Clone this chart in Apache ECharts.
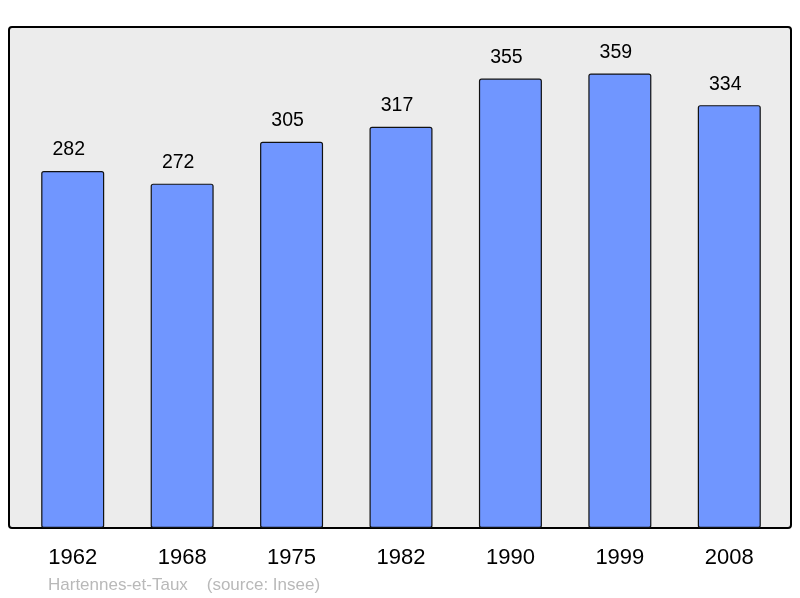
<!DOCTYPE html>
<html>
<head>
<meta charset="utf-8">
<script src="https://cdn.jsdelivr.net/npm/echarts@6/dist/echarts.min.js"></script>
<style>
  html, body { margin: 0; padding: 0; background: #fff; }
  #chart { width: 800px; height: 598px; }
</style>
</head>
<body>
<div id="chart"></div>
<script>
// population by census year
const years = ['1962', '1968', '1975', '1982', '1990', '1999', '2008'];
const population = [282, 272, 305, 317, 355, 359, 334];
const footer = 'Hartennes-et-Taux    (source: Insee)';

const chart = echarts.init(document.getElementById('chart'));

chart.setOption({
  animation: false,
  graphic: [
    {
      type: 'rect', z: -10,
      shape: { x: 9, y: 27, width: 782, height: 501, r: 3 },
      style: { fill: '#ececec', stroke: '#000', lineWidth: 2 }
    },
    {
      type: 'text', left: 48, top: 577,
      style: { text: footer, fill: '#b9b9b9', font: '17px "Liberation Sans", Arial, sans-serif' }
    }
  ],
  grid: { left: 18, right: 16, top: 21.6, bottom: 70 },
  xAxis: {
    type: 'category',
    data: years,
    axisLine: { show: false },
    axisTick: { show: false },
    axisLabel: { color: '#000', fontSize: 22, margin: 19, fontFamily: '"Liberation Sans", Arial, sans-serif' }
  },
  yAxis: {
    type: 'value', min: 0, max: 400,
    show: false
  },
  series: [{
    type: 'bar',
    data: population,
    barWidth: 63,
    itemStyle: { color: '#7096ff', borderColor: '#111', borderWidth: 1.2, borderRadius: 2 },
    label: {
      show: true, position: 'top', distance: 11, offset: [-4, 0],
      color: '#000', fontSize: 19.5, fontFamily: '"Liberation Sans", Arial, sans-serif'
    }
  }]
});
</script>
</body>
</html>
